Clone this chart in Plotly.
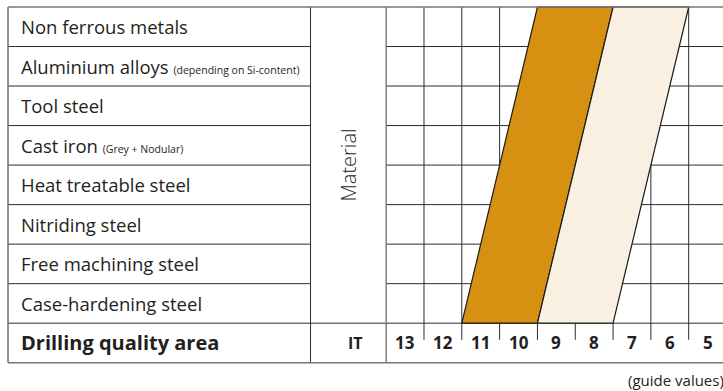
import plotly.graph_objects as go

# rows of the table (top to bottom) and the small notes printed after them
MATERIALS = ["Non ferrous metals", "Aluminium alloys", "Tool steel", "Cast iron",
             "Heat treatable steel", "Nitriding steel", "Free machining steel",
             "Case-hardening steel"]
NOTES = ["", "(depending on Si-content)", "", "(Grey + Nodular)", "", "", "", ""]
FOOTER_LABEL = "Drilling quality area"
IT_LABEL = "IT"
IT_GRADES = [13, 12, 11, 10, 9, 8, 7, 6, 5]

# quality bands: IT grades covered at the bottom row and at the top row
BAND_DARK_BOTTOM = (11, 10)
BAND_DARK_TOP = (9, 8)
BAND_LIGHT_BOTTOM = (9, 8)
BAND_LIGHT_TOP = (7, 6)

COLOR_DARK = "#D69012"
COLOR_LIGHT = "#FAF0E1"
LINE_IN = "#2b2b2b"
LINE_OUT = "#777777"
TXT = "#231f20"
FONT = "Open Sans"

# x axis in IT units (reversed), text column is 8 cells wide, "Material" column 2 cells
g_left = max(IT_GRADES) + 0.5          # 13.5
g_right = min(IT_GRADES) - 0.5         # 4.5
mat_left = g_left + 2                  # 15.5
tab_left = mat_left + 8                # 23.5
n_rows = len(MATERIALS)
x_range = [tab_left + 0.212, g_right + 0.093]
y_range = [n_rows + 1 + 0.716, -0.177]

fig = go.Figure()


def band(bottom, top, color, name):
    xs = [bottom[0] + 0.5, bottom[1] - 0.5, top[1] - 0.5, top[0] + 0.5, bottom[0] + 0.5]
    ys = [n_rows, n_rows, 0, 0, n_rows]
    fig.add_trace(go.Scatter(x=xs, y=ys, mode="lines", fill="toself", fillcolor=color,
                             line=dict(color="#1a1a1a", width=1.2), name=name,
                             hoverinfo="skip", showlegend=False))


band(BAND_DARK_BOTTOM, BAND_DARK_TOP, COLOR_DARK, "dark")
band(BAND_LIGHT_BOTTOM, BAND_LIGHT_TOP, COLOR_LIGHT, "light")

shapes = []


def hline(y, x0, x1, color=LINE_IN, w=1, layer="below"):
    shapes.append(dict(type="line", xref="x", yref="y", x0=x0, x1=x1, y0=y, y1=y,
                       line=dict(color=color, width=w), layer=layer))


def vline(x, y0, y1, color=LINE_IN, w=1, layer="below"):
    shapes.append(dict(type="line", xref="x", yref="y", x0=x, x1=x, y0=y0, y1=y1,
                       line=dict(color=color, width=w), layer=layer))


# horizontal rules (grid stays under the bands)
for i in range(1, n_rows):
    hline(i, tab_left, mat_left)
    hline(i, g_left, x_range[1])
hline(n_rows, tab_left, x_range[1])
hline(0, tab_left, x_range[1], LINE_OUT, 1.6, "above")
hline(n_rows + 1, tab_left, x_range[1], LINE_OUT, 1.6, "above")

# vertical rules
vline(tab_left, 0, n_rows + 1, LINE_OUT, 1.6)
vline(mat_left, 0, n_rows + 1)
vline(g_left, 0, n_rows + 1, LINE_OUT, 1.4)
for it in IT_GRADES[:-1]:
    vline(it - 0.5, 0, n_rows + 0.42)
vline(g_right, 0, n_rows + 0.42)

annotations = []
for i, (m, note) in enumerate(zip(MATERIALS, NOTES)):
    txt = m if not note else f"{m} <span style='font-size:10.5px'>{note}</span>"
    annotations.append(dict(x=tab_left - 0.29, y=i + 0.5, text=txt, showarrow=False,
                            xanchor="left", yanchor="middle",
                            font=dict(family=FONT, size=18.5, color=TXT)))

annotations.append(dict(x=tab_left - 0.29, y=n_rows + 0.5, text=f"<b>{FOOTER_LABEL}</b>",
                        showarrow=False, xanchor="left", yanchor="middle",
                        font=dict(family=FONT, size=20, color=TXT)))
annotations.append(dict(x=mat_left - 1, y=n_rows / 2, text="Material", textangle=-90,
                        showarrow=False, xanchor="center", yanchor="middle",
                        font=dict(family=FONT, size=20, color=TXT, weight=300)))
annotations.append(dict(x=mat_left - 1.19, y=n_rows + 0.5, text=f"<b>{IT_LABEL}</b>",
                        showarrow=False, xanchor="center", yanchor="middle",
                        font=dict(family=FONT, size=16, color=TXT)))
for it in IT_GRADES:
    annotations.append(dict(x=it, y=n_rows + 0.5, text=f"<b>{it}</b>", showarrow=False,
                            xanchor="center", yanchor="middle",
                            font=dict(family=FONT, size=17, color=TXT)))
annotations.append(dict(xref="paper", x=1, xshift=3, y=n_rows + 1.44, text="(guide values)",
                        showarrow=False, xanchor="right", yanchor="middle",
                        font=dict(family=FONT, size=15, color=TXT)))

fig.update_layout(
    width=723, height=391, margin=dict(l=0, r=0, t=0, b=0),
    paper_bgcolor="white", plot_bgcolor="white",
    xaxis=dict(range=x_range, visible=False, fixedrange=True),
    yaxis=dict(range=y_range, visible=False, fixedrange=True),
    shapes=shapes, annotations=annotations,
)
fig.write_html("out.html", config={"displayModeBar": False},
               post_script="document.body.style.margin='0';")
